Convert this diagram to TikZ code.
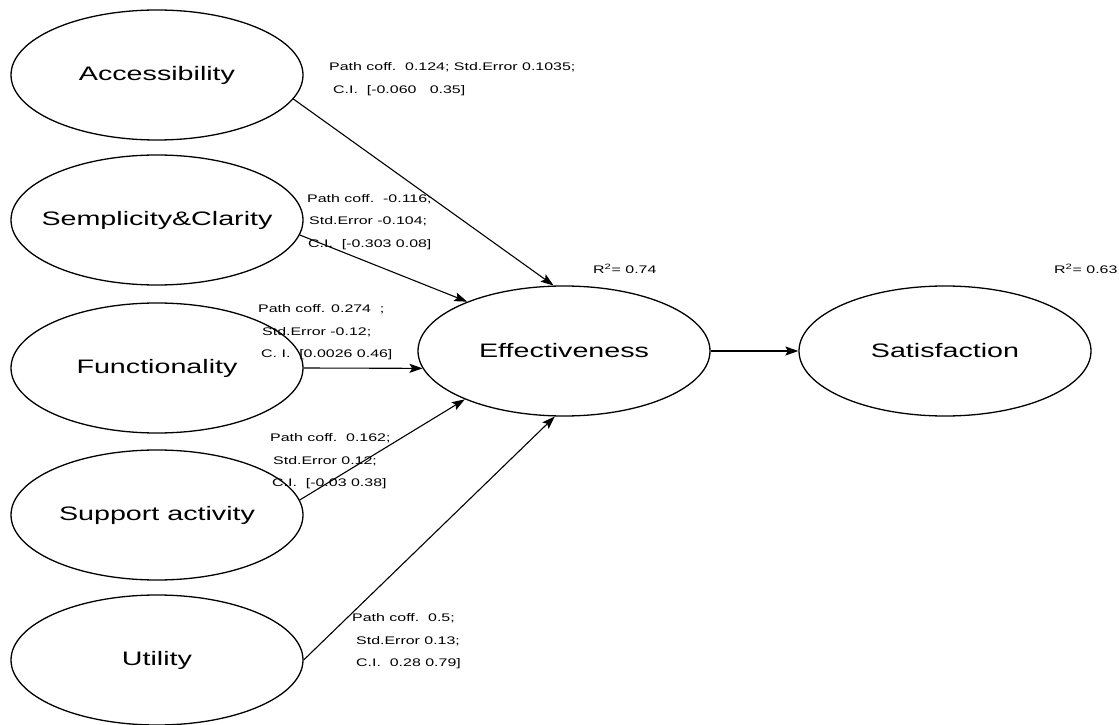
\documentclass[tikz,border=0pt]{standalone}
\usepackage{fontspec}
\setmainfont{Liberation Sans}
\usetikzlibrary{shapes,arrows.meta}
\newcommand{\labstretch}{1.45}
\newcommand{\namestretch}{1.47}
\newcommand{\wtext}[1]{\scalebox{\labstretch}[1]{#1}}
\newcommand{\ctext}[1]{\makebox[0pt]{\scalebox{\namestretch}[1]{#1}}}
\newcommand{\ind}[1]{\hspace*{#1pt}}

\begin{document}
\begin{tikzpicture}[x=1pt,y=1pt]
            %\draw[help lines] (0,0) grid (1119,724);
            \useasboundingbox (0,0) rectangle (1119,724);
            \tikzset{construct/.style = {ellipse, draw, line width=1.3pt, minimum width=292pt, minimum height=130pt, inner sep=0pt, font=\fontsize{19.5}{22}\selectfont}}
            \tikzset{link/.style = {line width=1.1pt, -{Stealth[length=13pt,width=9pt,inset=2.5pt]}}}
            \tikzset{coeff/.style = {anchor=north west, align=left, inner sep=0pt, font=\fontsize{11}{22.5}\selectfont}}
            % latent variables
            \node[construct] (acc)  at (157,649) {\ctext{Accessibility}};
            \node[construct] (semp) at (157,504) {\ctext{Semplicity\&Clarity}};
            \node[construct] (func) at (157,356) {\ctext{Functionality}};
            \node[construct] (supp) at (157,209) {\ctext{Support activity}};
            \node[construct] (util) at (157,64)  {\ctext{Utility}};
            \node[construct] (eff)  at (564,373) {\ctext{Effectiveness}};
            \node[construct] (sat)  at (945,373) {\ctext{Satisfaction}};
            % paths
            \draw[link] (acc.-10) -- (eff.99);
            \draw[link] (semp.-6) -- (eff.153);
            \draw[link] (func.east) -- (eff.187);
            \draw[link] (supp.6) -- (eff.206);
            \draw[link] (util.east) -- (eff.262);
            \draw[link] (eff.east) -- (sat.west);
            % coefficients
            \node[coeff] (cacc) at (329,661.5) {\wtext{Path coff.\ \ 0.124; Std.Error 0.1035;}\\ \ind{4}\wtext{C.I.\ \ [-0.060\ \ \ 0.35]}};
            \node[coeff] (csemp) at (307,530) {\wtext{Path coff.\ \ -0.116;}\\ \ind{2}\wtext{Std.Error -0.104;}\\ \ind{1}\wtext{C.I.\ \ [-0.303 0.08]}};
            \node[coeff] (cfunc) at (258,419.5) {\wtext{Path coff. 0.274\ \ ;}\\ \ind{4}\wtext{Std.Error -0.12;}\\ \ind{3}\wtext{C. I.\ \ [0.0026 0.46]}};
            \node[coeff] (csupp) at (270,290.5) {\wtext{Path coff.\ \ 0.162;}\\ \ind{3}\wtext{Std.Error 0.12;}\\ \ind{2}\wtext{C.I.\ \ [-0.03 0.38]}};
            \node[coeff] (cutil) at (352,110.5) {\wtext{Path coff.\ \ 0.5;}\\ \ind{4}\wtext{Std.Error 0.13;}\\ \ind{4}\wtext{C.I.\ \ 0.28 0.79]}};
            \node[coeff] (reff) at (593,460.5) {\wtext{R\textsuperscript{2}= 0.74}};
            \node[coeff] (rsat) at (1054,460.5) {\wtext{R\textsuperscript{2}= 0.63}};
        \end{tikzpicture}
\end{document}
